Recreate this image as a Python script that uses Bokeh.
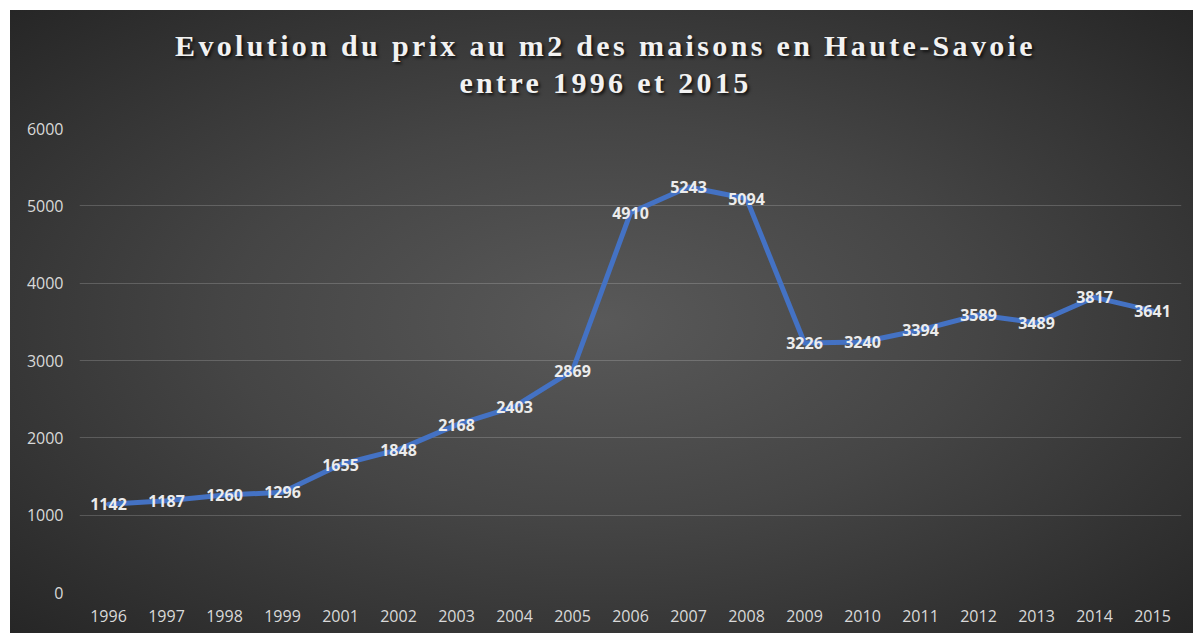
from bokeh.plotting import figure
from bokeh.models import ColumnDataSource, FactorRange, Range1d, FixedTicker, Div
from bokeh.layouts import column
from bokeh.core.properties import value
from bokeh.embed import file_html
from bokeh.resources import INLINE

years = ["1996", "1997", "1998", "1999", "2001", "2002", "2003", "2004", "2005",
         "2006", "2007", "2008", "2009", "2010", "2011", "2012", "2013", "2014", "2015"]
prices = [1142, 1187, 1260, 1296, 1655, 1848, 2168, 2403, 2869,
          4910, 5243, 5094, 3226, 3240, 3394, 3589, 3489, 3817, 3641]
y_ticks = [0, 1000, 2000, 3000, 4000, 5000, 6000]
title_lines = ["Evolution du prix au m2 des maisons en Haute-Savoie", "entre 1996 et 2015"]

src = ColumnDataSource(dict(year=years, price=prices, label=[str(v) for v in prices]))

W = 1183
p = figure(width=W, height=523, x_range=FactorRange(*years), y_range=Range1d(0, 6000),
           output_backend="svg", toolbar_location=None, margin=0,
           min_border_left=69, min_border_right=12, min_border_top=18, min_border_bottom=41)
p.background_fill_alpha = 0
p.border_fill_alpha = 0
p.outline_line_color = None

p.line(x="year", y="price", source=src, line_color="#4472C4", line_width=5,
       line_join="round", line_cap="round")
p.text(x="year", y="price", text="label", source=src, text_align="center",
       text_baseline="middle", text_color="#ececec", text_font=value("Open Sans"),
       text_font_style="bold", text_font_size="16px")

p.xgrid.grid_line_color = None
p.ygrid.grid_line_color = "#ffffff"
p.ygrid.grid_line_alpha = 0.18
p.yaxis.ticker = FixedTicker(ticks=y_ticks)

for ax in (p.xaxis[0], p.yaxis[0]):
    ax.axis_line_color = None
    ax.major_tick_line_color = None
    ax.minor_tick_line_color = None
    ax.major_tick_out = 0
    ax.major_tick_in = 0
    ax.major_label_text_color = "#d9d9d9"
    ax.major_label_text_font = "Open Sans"
    ax.major_label_text_font_size = "16px"
p.xaxis.major_label_standoff = 17
p.yaxis.major_label_standoff = 16

title = Div(text="<br>".join(title_lines), width=W, height=100, margin=0,
            styles={"font-family": "'Liberation Serif', serif", "font-weight": "bold",
                    "font-size": "30px", "letter-spacing": "3.35px", "line-height": "37px",
                    "color": "#f2f2f2", "text-align": "center", "width": f"{W}px",
                    "padding-top": "17px", "padding-left": "8px", "box-sizing": "border-box",
                    "text-shadow": "2px 2px 3px rgba(0,0,0,0.7)"})

layout = column(title, p, width=W, height=623, margin=(10, 0, 0, 10),
                styles={"background": "radial-gradient(ellipse at center, #595959 0%, #454545 45%, #262626 100%)"})

html = file_html(layout, INLINE)
html = html.replace("<body>", '<body style="margin:0;background:#ffffff;overflow:hidden">', 1)
open("out.html", "w").write(html)
